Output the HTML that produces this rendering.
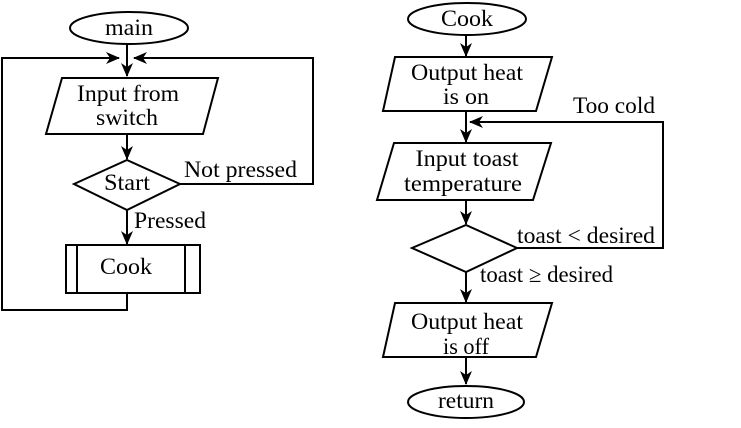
<!DOCTYPE html>
<html><head><style>html,body{margin:0;padding:0;background:#fff}svg{display:block}text{font-family:"Liberation Serif","Times New Roman",Times,"DejaVu Serif",serif;font-size:23px;fill:#000}</style></head><body>
<svg width="741" height="428" viewBox="0 0 741 428" xmlns="http://www.w3.org/2000/svg">
<defs><marker id="a" markerWidth="14" markerHeight="14" refX="13" refY="7" orient="auto" markerUnits="userSpaceOnUse"><path d="M0,1 L14,7 L0,13 L4,7 z" fill="#000"/></marker></defs>
<g fill="none" stroke="#000" stroke-width="2">
<ellipse cx="129" cy="28" rx="59" ry="16"/>
<line x1="127" y1="44" x2="127" y2="76" marker-end="url(#a)"/>
<polyline points="127,293 127,310 2,310 2,58 119,58" marker-end="url(#a)"/>
<polyline points="180,184 313,184 313,58 134,58" marker-end="url(#a)"/>
<polygon points="62,78 218,78 203,134 46,134"/>
<line x1="127" y1="134" x2="127" y2="159" marker-end="url(#a)"/>
<polygon points="127,160 180,184 127,210 74,184"/>
<line x1="127" y1="210" x2="127" y2="244" marker-end="url(#a)"/>
<rect x="66" y="245" width="134" height="48"/>
<line x1="77" y1="245" x2="77" y2="293"/><line x1="185" y1="245" x2="185" y2="293"/>
<ellipse cx="467" cy="19" rx="59" ry="16"/>
<line x1="466" y1="35" x2="466" y2="56" marker-end="url(#a)"/>
<polygon points="395,57 552,57 536,111 383,111"/>
<line x1="466" y1="111" x2="466" y2="142" marker-end="url(#a)"/>
<polyline points="517,248 663,248 663,122 470,122" marker-end="url(#a)"/>
<polygon points="394,143 551,143 533,200 377,200"/>
<line x1="466" y1="200" x2="466" y2="224" marker-end="url(#a)"/>
<polygon points="466,225 517,248 466,272 412,248"/>
<line x1="466" y1="272" x2="466" y2="302" marker-end="url(#a)"/>
<polygon points="395,303 552,303 536,357 383,357"/>
<line x1="466" y1="357" x2="466" y2="384" marker-end="url(#a)"/>
<ellipse cx="466" cy="402" rx="58" ry="16"/>
</g>
<g text-anchor="middle">
<text x="129" y="35" textLength="48" lengthAdjust="spacingAndGlyphs">main</text>
<text x="128" y="101" textLength="102" lengthAdjust="spacingAndGlyphs">Input from</text>
<text x="127" y="125" textLength="62" lengthAdjust="spacingAndGlyphs">switch</text>
<text x="127" y="190" textLength="46" lengthAdjust="spacingAndGlyphs">Start</text>
<text x="126" y="274" textLength="52" lengthAdjust="spacingAndGlyphs">Cook</text>
<text x="467" y="26" textLength="52" lengthAdjust="spacingAndGlyphs">Cook</text>
<text x="467" y="80" textLength="112" lengthAdjust="spacingAndGlyphs">Output heat</text>
<text x="466" y="104" textLength="46" lengthAdjust="spacingAndGlyphs">is on</text>
<text x="467" y="166" textLength="103" lengthAdjust="spacingAndGlyphs">Input toast</text>
<text x="463" y="191" textLength="118" lengthAdjust="spacingAndGlyphs">temperature</text>
<text x="467" y="329" textLength="112" lengthAdjust="spacingAndGlyphs">Output heat</text>
<text x="466" y="354" textLength="46" lengthAdjust="spacingAndGlyphs">is off</text>
<text x="466" y="408" textLength="56" lengthAdjust="spacingAndGlyphs">return</text>
</g>
<text x="184" y="177" textLength="113" lengthAdjust="spacingAndGlyphs">Not pressed</text>
<text x="134" y="228" textLength="72" lengthAdjust="spacingAndGlyphs">Pressed</text>
<text x="573" y="113" textLength="82" lengthAdjust="spacingAndGlyphs">Too cold</text>
<text x="517" y="243" textLength="138" lengthAdjust="spacingAndGlyphs">toast &lt; desired</text>
<text x="480" y="282" textLength="133" lengthAdjust="spacingAndGlyphs">toast ≥ desired</text>
</svg>
</body></html>
